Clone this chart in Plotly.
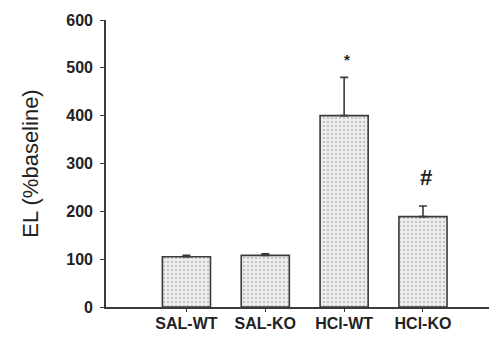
import plotly.graph_objects as go

categories = ["SAL-WT", "SAL-KO", "HCl-WT", "HCl-KO"]
values = [105, 108, 400, 189]
errors = [3, 3, 80, 22]
y_ticks = [0, 100, 200, 300, 400, 500, 600]
markers = ["", "", "*", "#"]
marker_y = [None, None, 518, 270]

x_pos = list(range(len(categories)))

fig = go.Figure()
fig.add_trace(go.Bar(
    x=x_pos, y=values,
    width=0.61,
    marker=dict(
        color="#efefef",
        line=dict(color="#3a3a3a", width=1.6),
        pattern=dict(shape=".", fgcolor="#9c9c9c", bgcolor="#f0f0f0", size=4, solidity=0.35),
    ),
    error_y=dict(type="data", array=errors, symmetric=False, arrayminus=[0]*4,
                 color="#3a3a3a", thickness=1.6, width=4, visible=True),
    showlegend=False,
))

for i, (m, my) in enumerate(zip(markers, marker_y)):
    if m:
        fig.add_annotation(x=x_pos[i] + 0.04, y=my, text=m, showarrow=False,
                           font=dict(family="Liberation Sans", size=22 if m == "#" else 15,
                                     color="#222", weight="bold"))

fig.update_layout(
    width=489, height=330,
    margin=dict(l=98, r=7, t=12, b=31, autoexpand=False),
    plot_bgcolor="white", paper_bgcolor="white",
)
fig.update_xaxes(
    range=[-1.02, 3.85],
    tickvals=x_pos, ticktext=categories,
    showline=True, linecolor="#3a3a3a", linewidth=1.6,
    ticks="outside", ticklen=3, tickcolor="#3a3a3a",
    tickfont=dict(family="Liberation Sans", size=16, color="#222", weight="bold"),
    ticklabelstandoff=-2,
    showgrid=False, zeroline=False, automargin=False,
)
fig.update_yaxes(
    range=[0, 600],
    tickvals=y_ticks,
    showline=True, linecolor="#3a3a3a", linewidth=1.6,
    ticks="outside", ticklen=4, tickcolor="#3a3a3a",
    tickfont=dict(family="Liberation Sans", size=16, color="#222", weight="bold"),
    ticklabelstandoff=4,
    title=dict(text="EL (%baseline)", font=dict(family="Liberation Sans", size=22, color="#222"),
               standoff=22),
    showgrid=False, zeroline=False, automargin=False,
)

fig.write_html("out.html")
